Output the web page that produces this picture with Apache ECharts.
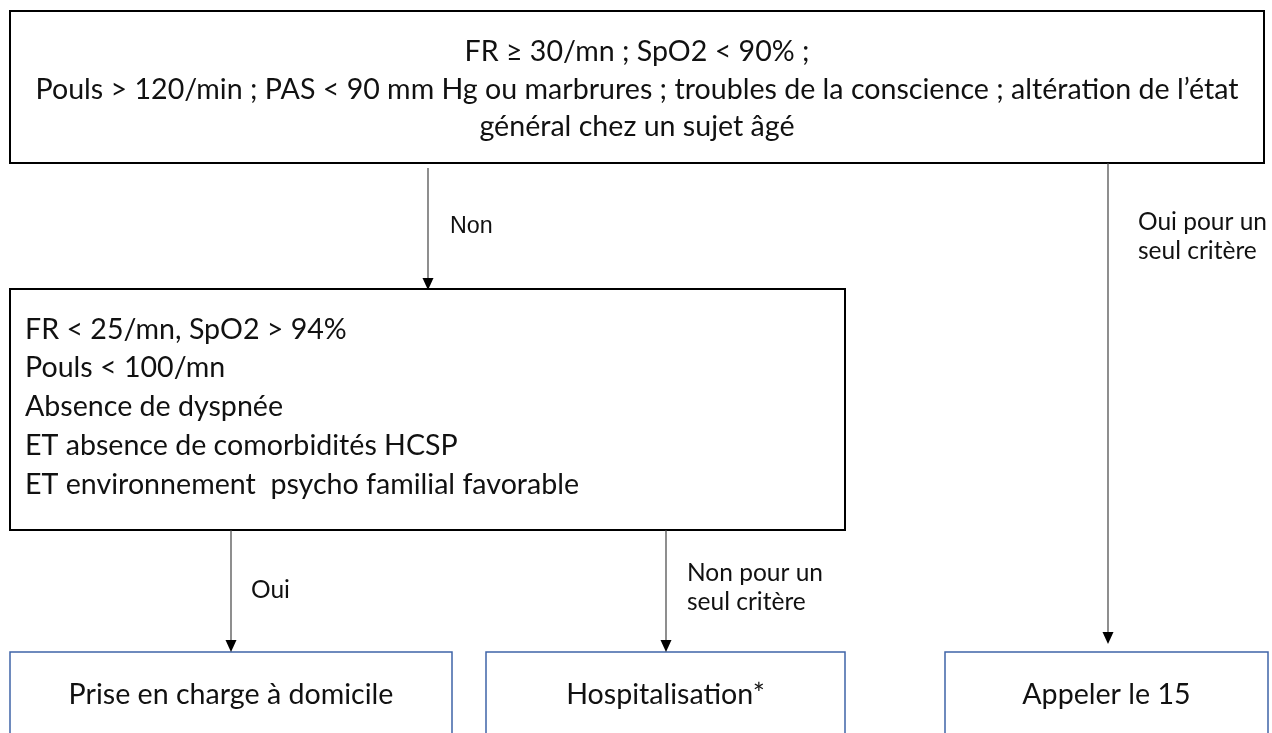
<!DOCTYPE html>
<html><head><meta charset="utf-8">
<script src="https://cdn.jsdelivr.net/npm/echarts@6/dist/echarts.min.js"></script>
<style>html,body{margin:0;padding:0;background:#fff}#c{width:1272px;height:733px}</style>
</head><body><div id="c"></div>
<script>
// ---- content ----
const topLines = [
  "FR \u2265 30/mn ; SpO2 < 90% ;",
  "Pouls > 120/min ; PAS < 90 mm Hg ou marbrures ; troubles de la conscience ; alt\u00e9ration de l\u2019\u00e9tat",
  "g\u00e9n\u00e9ral chez un sujet \u00e2g\u00e9"
];
const criteriaLines = [
  "FR < 25/mn, SpO2 > 94%",
  "Pouls < 100/mn",
  "Absence de dyspn\u00e9e",
  "ET absence de comorbidit\u00e9s HCSP",
  "ET environnement  psycho familial favorable"
];
const outcomes = ["Prise en charge \u00e0 domicile", "Hospitalisation*", "Appeler le 15"];
const edgeLabels = ["Non", "Oui", "Non pour un\nseul crit\u00e8re", "Oui pour un\nseul crit\u00e8re"];

// ---- layout (pixel space of the 1272x733 canvas) ----
const boxLayout = [
  {x0: 10, y0: 11, x1: 1264, y1: 163, lines: topLines, align: 'center', color: '#000', lw: 2, lh: 37.5, ty: 89.5},
  {x0: 10, y0: 289, x1: 845, y1: 530, lines: criteriaLines, align: 'left', color: '#000', lw: 2, lh: 38.8, ty: 407},
  {x0: 10, y0: 652, x1: 452, y1: 780, lines: [outcomes[0]], align: 'center', color: '#3f64a8', lw: 1.5, lh: 30, ty: 695},
  {x0: 486, y0: 652, x1: 845, y1: 780, lines: [outcomes[1]], align: 'center', color: '#3f64a8', lw: 1.5, lh: 30, ty: 695},
  {x0: 945, y0: 652, x1: 1268, y1: 780, lines: [outcomes[2]], align: 'center', color: '#3f64a8', lw: 1.5, lh: 30, ty: 695}
];
const arrowLayout = [
  {x: 428, y0: 168, y1: 290, label: edgeLabels[0], lx: 450, ly: 227, font: 'Liberation Sans', fs: 23.3},
  {x: 231, y0: 530, y1: 652, label: edgeLabels[1], lx: 251, ly: 590, font: 'Lato', fs: 24.5},
  {x: 666, y0: 530, y1: 652, label: edgeLabels[2], lx: 687, ly: 588, font: 'Lato', fs: 24.5},
  {x: 1108, y0: 163, y1: 644, label: edgeLabels[3], lx: 1138, ly: 237, font: 'Lato', fs: 24.5}
];

const FONT = 'Lato';
const chart = echarts.init(document.getElementById('c'), null, {renderer: 'canvas'});

function boxItem(params, api) {
  const b = boxLayout[params.dataIndex];
  const p0 = api.coord([b.x0, b.y0]);
  const p1 = api.coord([b.x1, b.y1]);
  const children = [{
    type: 'rect',
    shape: {x: p0[0], y: p0[1], width: p1[0] - p0[0], height: p1[1] - p0[1]},
    style: {fill: '#fff', stroke: b.color, lineWidth: b.lw}
  }];
  const n = b.lines.length;
  const cy = api.coord([0, b.ty])[1];
  b.lines.forEach((t, i) => {
    const y = cy + (i - (n - 1) / 2) * b.lh;
    children.push({
      type: 'text',
      style: {
        text: t,
        x: b.align === 'center' ? (p0[0] + p1[0]) / 2 : p0[0] + 15,
        y: y,
        textAlign: b.align,
        textVerticalAlign: 'middle',
        fontFamily: FONT,
        fontSize: 28.6,
        fill: '#111'
      }
    });
  });
  return {type: 'group', children};
}

function arrowItem(params, api) {
  const a = arrowLayout[params.dataIndex];
  const s = api.coord([a.x, a.y0]);
  const e = api.coord([a.x, a.y1]);
  const l = api.coord([a.lx, a.ly]);
  const h = 12, w = 5.5;
  return {
    type: 'group',
    children: [
      {type: 'line', shape: {x1: s[0], y1: s[1], x2: e[0], y2: e[1] - h}, style: {stroke: '#444', lineWidth: 1.2}},
      {type: 'polygon', shape: {points: [[e[0] - w, e[1] - h], [e[0] + w, e[1] - h], [e[0], e[1]]]}, style: {fill: '#000'}},
      {type: 'text', style: {text: a.label, x: l[0], y: l[1], textAlign: 'left', textVerticalAlign: 'middle',
        fontFamily: a.font, fontSize: a.fs, lineHeight: 29, fill: '#111'}}
    ]
  };
}

chart.setOption({
  animation: false,
  backgroundColor: '#fff',
  grid: {left: 0, right: 0, top: 0, bottom: 0},
  xAxis: {type: 'value', min: 0, max: 1272, show: false},
  yAxis: {type: 'value', min: 0, max: 733, inverse: true, show: false},
  series: [
    {type: 'custom', renderItem: boxItem, data: boxLayout.map((b, i) => [i]), silent: true},
    {type: 'custom', renderItem: arrowItem, data: arrowLayout.map((a, i) => [i]), silent: true}
  ]
});
</script></body></html>
